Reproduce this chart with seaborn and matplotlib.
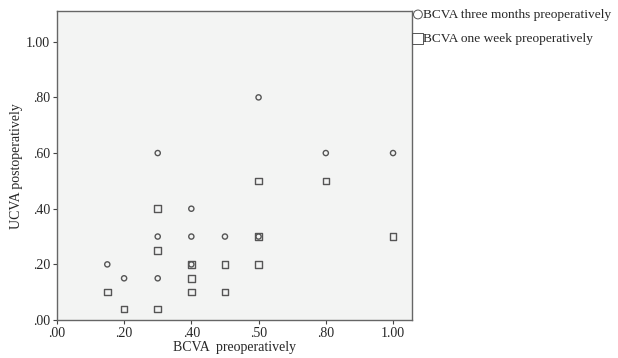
import pandas as pd
import seaborn as sns
import matplotlib.pyplot as plt

# BCVA preoperatively (x) vs UCVA postoperatively (y)
three_months_x = [0.30, 0.60, 0.80, 1.00, 0.40, 0.30, 0.40, 0.50, 0.60, 0.15, 0.20, 0.30, 0.40]
three_months_y = [0.60, 0.80, 0.60, 0.60, 0.40, 0.30, 0.30, 0.30, 0.30, 0.20, 0.15, 0.15, 0.20]

one_week_x = [0.30, 0.60, 0.80, 0.60, 1.00, 0.30, 0.40, 0.50, 0.60, 0.40, 0.15, 0.40, 0.50, 0.20, 0.30]
one_week_y = [0.40, 0.50, 0.50, 0.30, 0.30, 0.25, 0.20, 0.20, 0.20, 0.15, 0.10, 0.10, 0.10, 0.04, 0.04]

x_ticks = [0.0, 0.2, 0.4, 0.6, 0.8, 1.0]
x_tick_labels = ['.00', '.20', '.40', '.50', '.80', '1.00']
y_ticks = [0.0, 0.2, 0.4, 0.6, 0.8, 1.0]
y_tick_labels = ['.00', '.20', '.40', '.60', '.80', '1.00']

df_3m = pd.DataFrame({'x': three_months_x, 'y': three_months_y})
df_1w = pd.DataFrame({'x': one_week_x, 'y': one_week_y})

sns.set_style('ticks')
plt.rcParams['font.family'] = ['Liberation Serif', 'DejaVu Serif']

fig = plt.figure(figsize=(6.18, 3.58), dpi=100)
ax = fig.add_axes([0.092, 0.106, 0.575, 0.863])
ax.set_facecolor('#f3f4f3')

sns.scatterplot(data=df_3m, x='x', y='y', ax=ax, marker='o', s=14,
                facecolor='none', edgecolor='#555555', linewidth=1.0,
                label='BCVA three months preoperatively')
sns.scatterplot(data=df_1w, x='x', y='y', ax=ax, marker='s', s=22,
                facecolor='none', edgecolor='#555555', linewidth=1.0,
                label='BCVA one week preoperatively')

ax.set_xlim(0, 1.057)
ax.set_ylim(0, 1.11)
ax.set_xticks(x_ticks)
ax.set_xticklabels(x_tick_labels, fontsize=10)
ax.set_yticks(y_ticks)
ax.set_yticklabels(y_tick_labels, fontsize=10)
ax.tick_params(length=3, width=0.8, color='#444444', pad=2)
for sp in ax.spines.values():
    sp.set_color('#666666')
    sp.set_linewidth(1.0)

ax.set_xlabel('BCVA  preoperatively', fontsize=10, labelpad=1)
ax.set_ylabel('UCVA postoperatively', fontsize=10, labelpad=2)

leg = ax.legend(loc='upper left', bbox_to_anchor=(1.003, 1.008), frameon=False,
                fontsize=9.6, handletextpad=0.0, handlelength=0.7,
                borderaxespad=0.0, labelspacing=0.9, borderpad=0.0,
                markerscale=1.7)
for h in leg.legend_handles:
    h.set_linewidth(0.7)

fig.savefig('out.png', dpi=100)
